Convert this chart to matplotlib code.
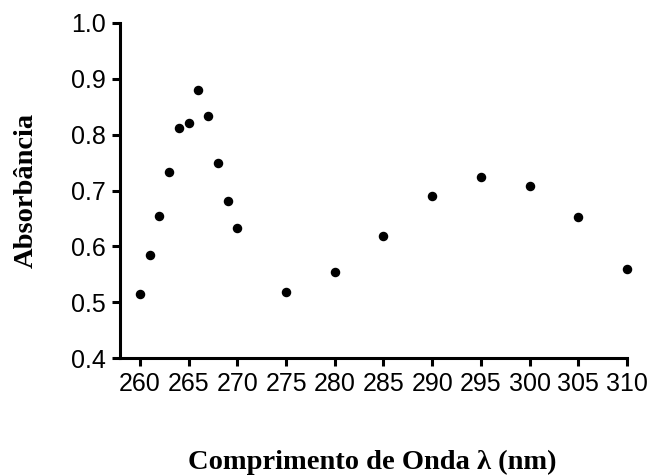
import matplotlib
matplotlib.use("Agg")
import matplotlib.pyplot as plt
import numpy as np

# dados
comprimento = [260, 261, 262, 263, 264, 265, 266, 267, 268, 269, 270,
               275, 280, 285, 290, 295, 300, 305, 310]
absorbancia = [0.515, 0.584, 0.655, 0.733, 0.811, 0.820, 0.879, 0.834, 0.749, 0.682, 0.633,
               0.519, 0.554, 0.619, 0.690, 0.724, 0.708, 0.652, 0.560]
xticks = np.arange(260, 311, 5)
yticks = [0.4, 0.5, 0.6, 0.7, 0.8, 0.9, 1.0]

fig = plt.figure(figsize=(6.49, 4.76), dpi=100)
ax = fig.add_axes([120/649, 1-358.3/476, (627-120)/649, (358.3-22.7)/476])

ax.scatter(comprimento, absorbancia, s=34, c="black", zorder=3, clip_on=False)

ax.set_xlim(257.95, 310)
ax.set_ylim(0.4, 1.0)
ax.set_xticks(xticks)
ax.set_yticks(yticks)
ax.set_yticklabels([f"{v:.1f}" for v in yticks])

for s in ["top", "right"]:
    ax.spines[s].set_visible(False)
for s in ["left", "bottom"]:
    ax.spines[s].set_linewidth(2.2)
ax.tick_params(width=2.2, length=6, labelsize=18, pad=4)
for lab in ax.get_xticklabels() + ax.get_yticklabels():
    lab.set_family("Liberation Sans")

serif = ["Liberation Serif", "DejaVu Serif"]
fig.text(372.5/649, 1-469/476, "Comprimento de Onda λ (nm)", ha="center", va="baseline",
         fontsize=20.5, fontweight="bold", family=serif)
fig.text(33/649, 1-190/476, "Absorbância", ha="center", va="baseline", rotation=90,
         rotation_mode="anchor", fontsize=20.5, fontweight="bold", family=serif)

fig.savefig("out.png", dpi=100)
